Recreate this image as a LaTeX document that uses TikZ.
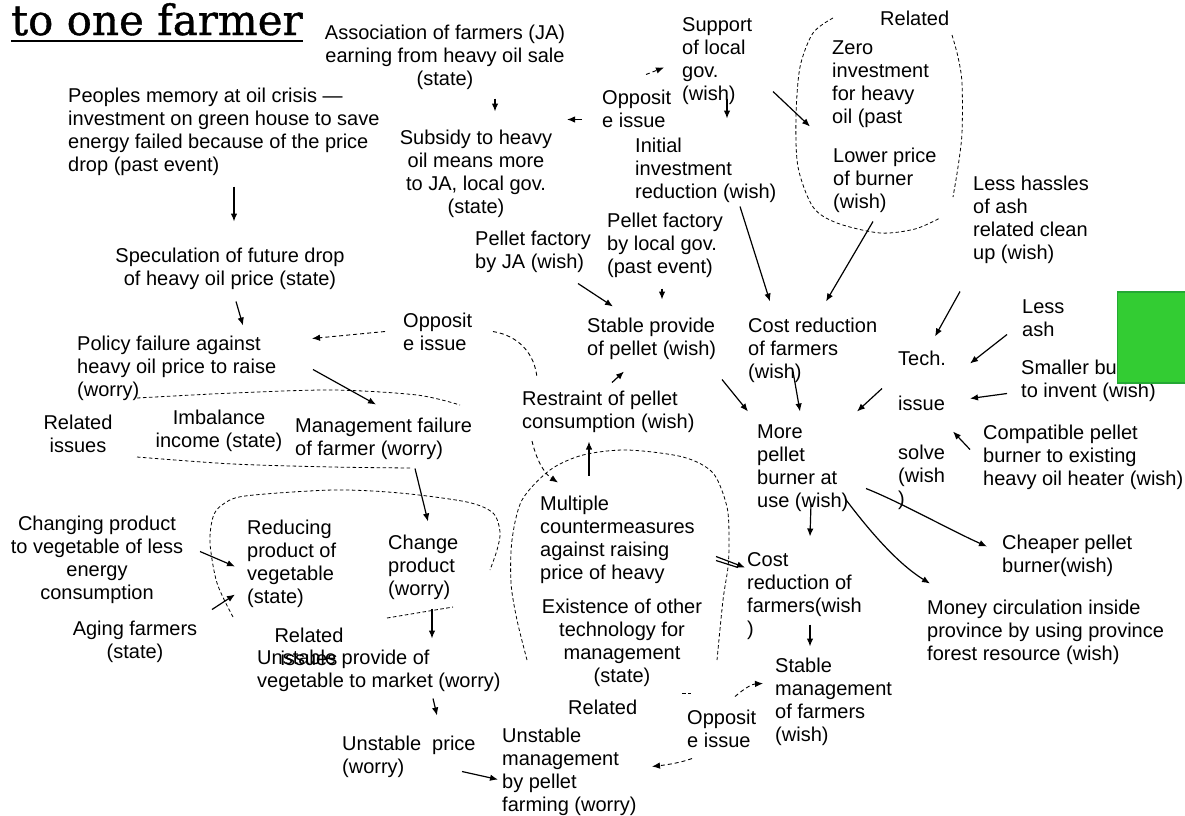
\documentclass[tikz,border=0pt]{standalone}
\usepackage{fontspec}
\setmainfont{Liberation Sans}
\newfontfamily\titlefont[FakeBold=0.9]{DejaVu Serif}
\usetikzlibrary{arrows.meta}
\definecolor{boxgreen}{RGB}{51,204,51}
\definecolor{boxedge}{RGB}{36,168,52}
\begin{document}
\begin{tikzpicture}[x=1pt,y=-1pt,
  txt/.style={inner sep=0pt, yshift=-1.5pt, font=\fontsize{20}{23}\selectfont, align=left, anchor=north west},
  ctxt/.style={txt, align=center, anchor=north},
  arr/.style={line width=1.2pt, -{Latex[length=8pt,width=6.5pt]}},
  darr/.style={arr, line width=0.9pt, dash pattern=on 4pt off 3pt},
  region/.style={line width=0.8pt, dash pattern=on 3.5pt off 2.5pt},
]
\useasboundingbox (0,0) rectangle (1185,815);

% ---------- title ----------
\node[inner sep=0pt, font=\titlefont\fontsize{42}{46}\selectfont, anchor=base west] (title) at (11,35) {to one farmer};
\draw[line width=2.2pt] ([shift={(0,6)}]title.base west) -- ([shift={(0,6)}]title.base east);

% ---------- statements ----------
\node[ctxt] (assoc) at (445,23) {Association of farmers (JA)\\earning from heavy oil sale\\(state)};
\node[txt] (peoples) at (68,86) {Peoples memory at oil crisis —\\investment on green house to save\\energy failed because of the price\\drop (past event)};
\node[ctxt] (spec) at (230,246) {Speculation of future drop\\of heavy oil price (state)};
\node[txt] (policy) at (77,334) {Policy failure against\\heavy oil price to raise\\(worry)};
\node[txt] (oppmid) at (403,311) {Opposit\\e issue};
\node[ctxt] (relA) at (78,413) {Related\\issues};
\node[ctxt] (imbal) at (219,408) {Imbalance\\income (state)};
\node[txt] (mgmt) at (295,416) {Management failure\\of farmer (worry)};
\node[ctxt] (changing) at (97,514) {Changing product\\to vegetable of less\\energy\\consumption};
\node[ctxt] (aging) at (135,619) {Aging farmers\\(state)};
\node[txt] (reducing) at (247,518) {Reducing\\product of\\vegetable\\(state)};
\node[txt] (change) at (388,533) {Change\\product\\(worry)};
\node[ctxt] (relB) at (309,626) {Related\\issues};
\node[txt] (unsprov) at (257,648) {Unstable provide of\\vegetable to market (worry)};
\node[txt] (unsprice) at (342,734) {Unstable\ \ price\\(worry)};
\node[txt] (unsmgmt) at (502,726) {Unstable\\management\\by pellet\\farming (worry)};
\node[txt] (relC) at (568,698) {Related};
\node[ctxt] (exist) at (622,597) {Existence of other\\technology for\\management\\(state)};
\node[txt] (multiple) at (540,494) {Multiple\\countermeasures\\against raising\\price of heavy};
\node[txt] (cost2) at (747,551) {Cost\\reduction of\\farmers(wish\\)};
\node[txt] (stablem) at (775,656) {Stable\\management\\of farmers\\(wish)};
\node[txt] (oppbot) at (687,708) {Opposit\\e issue};
\node[txt] (restraint) at (522,389) {Restraint of pellet\\consumption (wish)};
\node[txt] (stablep) at (587,316) {Stable provide\\of pellet (wish)};
\node[txt] (cost1) at (748,316) {Cost reduction\\of farmers\\(wish)};
\node[txt] (more) at (757,423) {More\\pellet\\burner at\\use (wish)};
\node[txt] (tech) at (898,349) {Tech.\\[22pt]issue\\[26pt]solve\\(wish\\)};
\node[txt] (lessash) at (1022,298) {Less\\ash};
\node[txt] (smaller) at (1021,358) {Smaller bu\\to invent (wish)};
\node[txt] (compat) at (983,423) {Compatible pellet\\burner to existing\\heavy oil heater (wish)};
\node[txt] (cheaper) at (1002,533) {Cheaper pellet\\burner(wish)};
\node[txt] (money) at (927,598) {Money circulation inside\\province by using province\\forest resource (wish)};
\node[txt] (support) at (682,16) {Support\\of local\\gov.\\(wish)};
\node[txt] (opptop) at (602,88) {Opposit\\e issue};
\node[ctxt] (subsidy) at (476,128) {Subsidy to heavy\\oil means more\\to JA, local gov.\\(state)};
\node[txt] (initial) at (635,136) {Initial\\investment\\reduction (wish)};
\node[txt] (pelletJA) at (475,229) {Pellet factory\\by JA (wish)};
\node[txt] (pelletLG) at (607,211) {Pellet factory\\by local gov.\\(past event)};
\node[txt] (relD) at (880,9) {Related};
\node[txt] (zero) at (832,39) {Zero\\investment\\for heavy\\oil (past};
\node[txt] (lower) at (833,146) {Lower price\\of burner\\(wish)};
\node[txt] (hassle) at (973,174) {Less hassles\\of ash\\related clean\\up (wish)};

% ---------- groups of related issues ----------
\draw[region] plot[smooth] coordinates {(833,18) (813,33) (800,67) (796,117) (798,167) (813,207) (837,223) (880,233) (915,229) (940,218)};
\draw[region] plot[smooth] coordinates {(952,35) (958,57) (962,83) (962,133) (958,167) (953,197)};
\draw[region] plot[smooth] coordinates {(137,398) (233,393) (333,390) (417,395) (460,405)};
\draw[region] plot[smooth] coordinates {(137,457) (233,464) (333,467) (410,468)};
\draw[region] plot[smooth] coordinates {(233,617) (217,583) (210,543) (213,517) (222,505) (245,496) (333,490) (400,493) (467,502) (493,513) (500,532) (497,550) (490,570)};
\draw[region] (387,618) -- (453,607);
\draw[region] plot[smooth] coordinates {(527,660) (517,620) (511,583) (512,540) (522,500) (550,470) (583,455) (627,450) (683,457) (713,473) (727,507) (729,540) (728,567) (723,600) (717,660)};
\draw[region] (682,693) -- (691,693);

% ---------- causal links ----------
\draw[arr] ([shift={(166,99)}]peoples.north west) -- ([shift={(4,-26)}]spec.north);
\draw[arr] ([shift={(6,54)}]spec.north) -- ([shift={(166,-10)}]policy.north west);
\draw[arr] ([shift={(236,34)}]policy.north west) -- ([shift={(81,-13)}]mgmt.north west);
\draw[arr] ([shift={(120,51)}]mgmt.north west) -- ([shift={(40,-13)}]change.north west);
\draw[arr] ([shift={(44,74)}]change.north west) -- ([shift={(175,-11)}]unsprov.north west);
\draw[arr] ([shift={(176,49)}]unsprov.north west) -- ([shift={(95,-20)}]unsprice.north west);
\draw[arr] ([shift={(120,36)}]unsprice.north west) -- ([shift={(-4,52)}]unsmgmt.north west);
\draw[arr] ([shift={(103,36)}]changing.north) -- ([shift={(-12,47)}]reducing.north west);
\draw[arr] ([shift={(77,-11)}]aging.north) -- ([shift={(-12,75)}]reducing.north west);
\draw[arr] ([shift={(49,-20)}]multiple.north west) -- ([shift={(67,51)}]restraint.north west);
\draw[arr] ([shift={(90,-8)}]restraint.north west) -- ([shift={(37,54)}]stablep.north west);
\draw[arr] ([shift={(103,53)}]pelletJA.north west) -- ([shift={(26,-11)}]stablep.north west);
\draw[arr] ([shift={(55,76)}]pelletLG.north west) -- ([shift={(75,-18)}]stablep.north west);
\draw[arr] ([shift={(105,69)}]initial.north west) -- ([shift={(22,-16)}]cost1.north west);
\draw[arr] ([shift={(40,74)}]lower.north west) -- ([shift={(78,-16)}]cost1.north west);
\draw[arr] ([shift={(135,62)}]stablep.north west) -- ([shift={(-9,-13)}]more.north west);
\draw[arr] ([shift={(45,54)}]cost1.north west) -- ([shift={(43,-13)}]more.north west);
\draw[arr] ([shift={(-16,38)}]tech.north west) -- ([shift={(100,-13)}]more.north west);
\draw[arr] ([shift={(-13,116)}]hassle.north west) -- ([shift={(37,-14)}]tech.north west);
\draw[arr] ([shift={(-15,35)}]lessash.north west) -- ([shift={(72,13)}]tech.north west);
\draw[arr] ([shift={(-14,34)}]smaller.north west) -- ([shift={(72,48)}]tech.north west);
\draw[arr] ([shift={(-13,25)}]compat.north west) -- ([shift={(55,81)}]tech.north west);
\draw[arr] ([shift={(54,79)}]more.north west) -- ([shift={(63,-16)}]cost2.north west);
\draw[arr] ([shift={(176,61)}]multiple.north west) -- ([shift={(-2,15)}]cost2.north west);
\draw[line width=1.2pt] ([shift={(176,65)}]multiple.north west) -- ([shift={(-9,15)}]cost2.north west);
\draw[arr] ([shift={(63,72)}]cost2.north west) -- ([shift={(35,-11)}]stablem.north west);
\draw[arr] ([shift={(109,64)}]more.north west) .. controls (900,502) and (950,530) .. ([shift={(-15,12)}]cheaper.north west);
\draw[arr] ([shift={(88,74)}]more.north west) .. controls (865,525) and (895,562) .. ([shift={(3,-16)}]money.north west);
\draw[arr] ([shift={(45,81)}]support.north west) -- ([shift={(92,-19)}]initial.north west);
\draw[arr] ([shift={(91,74)}]support.north west) -- ([shift={(-22,86)}]zero.north west);
\draw[arr] ([shift={(50,74)}]assoc.north) -- ([shift={(19,-18)}]subsidy.north);
\draw[arr] ([shift={(-20,30)}]opptop.north west) -- ([shift={(91,-10)}]subsidy.north);

% ---------- opposite issues ----------
\draw[darr] ([shift={(44,-15)}]opptop.north west) -- ([shift={(-18,50)}]support.north west);
\draw[darr] ([shift={(-18,19)}]oppmid.north west) -- ([shift={(235,3)}]policy.north west);
\draw[darr] ([shift={(90,19)}]oppmid.north west) .. controls (520,336) and (535,355) .. (537,378)
            (532,441) .. controls (537,462) and (545,474) .. ([shift={(18,-13)}]multiple.north west);
\draw[darr] ([shift={(48,-13)}]oppbot.north west) .. controls (745,688) and (752,684) .. ([shift={(-12,26)}]stablem.north west);
\draw[darr] ([shift={(5,49)}]oppbot.north west) .. controls (680,763) and (665,765) .. ([shift={(150,39)}]unsmgmt.north west);

% ---------- green marker ----------
\fill[boxgreen, draw=boxedge, line width=1.5pt] (1117.5,292) rectangle (1186,383);
\end{tikzpicture}
\end{document}
